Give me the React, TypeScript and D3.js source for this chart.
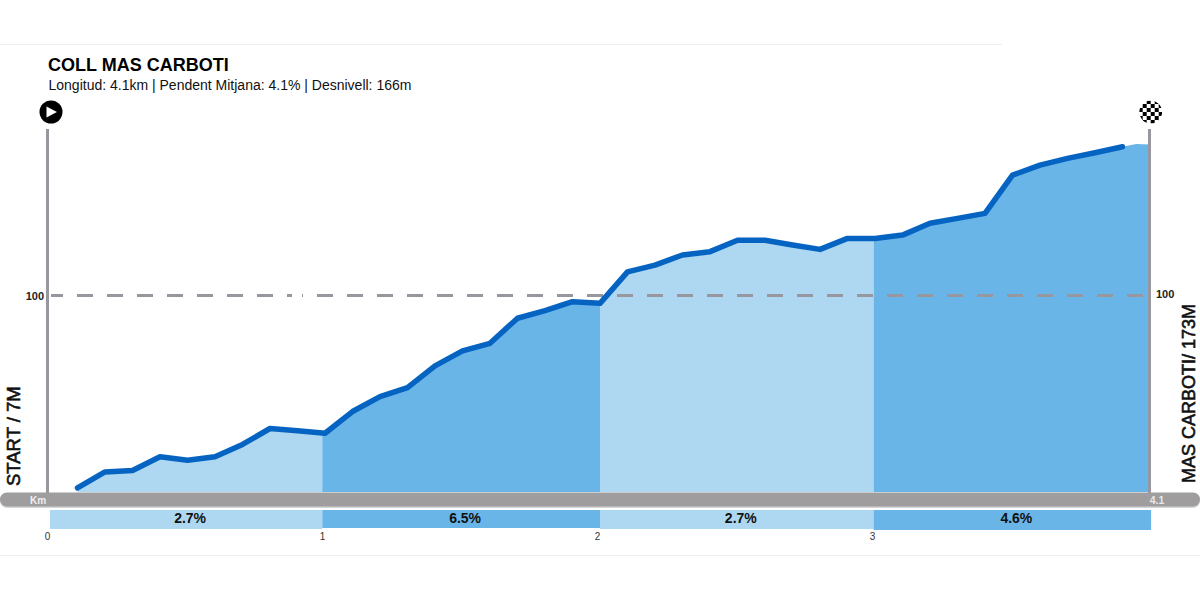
import * as d3 from 'd3';

const titleText = 'COLL MAS CARBOTI';
const subtitleText = 'Longitud: 4.1km | Pendent Mitjana: 4.1% | Desnivell: 166m';
const startLabel = 'START / 7M';
const endLabel = 'MAS CARBOTI/ 173M';

// elevation every 100m
const kms = [0.1, 0.2, 0.3, 0.4, 0.5, 0.6, 0.7, 0.8, 0.9, 1, 1.1, 1.2, 1.3, 1.4, 1.5, 1.6, 1.7, 1.8, 1.9, 2, 2.1, 2.2, 2.3, 2.4, 2.5, 2.6, 2.7, 2.8, 2.9, 3, 3.1, 3.2, 3.3, 3.4, 3.5, 3.6, 3.7, 3.8, 3.9];
const elevations = [7, 14.7, 15.4, 22, 20.4, 22, 28, 35.7, 34.6, 33.4, 43.9, 51.1, 55.5, 66, 73.2, 76.9, 89, 92.7, 97, 96.2, 111.4, 114.7, 119.6, 121.2, 126.7, 126.7, 124.4, 122.3, 127.6, 127.6, 129.2, 134.9, 137.3, 139.7, 158.2, 163, 166.3, 169, 171.9];
// the fill runs on past the end of the line
const tailKms = [3.95, 4];
const tailElevations = [173.2, 173];

const segmentStarts = [0, 0.99, 2, 2.995];
const segmentEnds = [0.99, 2, 2.995, 4.004];
const segmentGrades = ['2.7%', '6.5%', '2.7%', '4.6%'];
const kmTicks = [0, 1, 2, 3];

const LIGHT = '#aed7f1';
const DARK = '#6ab5e8';
const LINE = '#0564c2';
const AXIS = '#98979f';
const FONT = '"Liberation Sans", Arial, sans-serif';

const x = d3.scaleLinear().domain([0, 4]).range([50, 1150]);
const y = d3.scaleLinear().domain([5, 100]).range([492, 295.5]);

type Pt = [number, number];
const linePts: Pt[] = kms.map((k, i) => [k, elevations[i]]);
const areaPts: Pt[] = [...linePts, ...tailKms.map((k, i): Pt => [k, tailElevations[i]])];

const lineGen = d3.line<Pt>().x(d => x(d[0])).y(d => y(d[1]));
const areaGen = d3.area<Pt>().x(d => x(d[0])).y0(y(5)).y1(d => y(d[1]));

const App = () => {
    return (
        <svg width="1200" height="600" style={{ position: 'absolute', left: 0, top: 0, background: '#fff' }} fontFamily={FONT}>
            <defs>
                {segmentStarts.map((s, i) => (
                    <clipPath key={i} id={`seg${i}`}>
                        <rect x={x(s)} y={100} width={x(segmentEnds[i]) - x(s)} height={400} />
                    </clipPath>
                ))}
                <clipPath id="flagClip"><circle cx="1150.7" cy="112" r="11.5" /></clipPath>
                <pattern id="checker" width="8" height="8" patternUnits="userSpaceOnUse" patternTransform="translate(1150.7 112)">
                    <rect width="8" height="8" fill="#fff" />
                    <rect width="4" height="4" fill="#000" />
                    <rect x="4" y="4" width="4" height="4" fill="#000" />
                </pattern>
            </defs>

            <line x1="0" x2="1002" y1="44.5" y2="44.5" stroke="#eeeeee" />
            <line x1="0" x2="1200" y1="555.5" y2="555.5" stroke="#eeeeee" />

            <text x="48" y="71" fontSize="18" fontWeight="bold" fill="#000">{titleText}</text>
            <text x="48.5" y="90" fontSize="14" fill="#111">{subtitleText}</text>

            {segmentStarts.map((_, i) => (
                <path key={i} d={areaGen(areaPts) ?? ''} fill={i % 2 ? DARK : LIGHT} clipPath={`url(#seg${i})`} />
            ))}

            <line x1="47.5" x2="47.5" y1="129" y2="493" stroke={AXIS} strokeWidth="3" />
            <line x1="1149.5" x2="1149.5" y1="129" y2="493" stroke={AXIS} strokeWidth="3" />

            <line x1="47" x2="1145" y1={y(100)} y2={y(100)} stroke={AXIS} strokeWidth="3" strokeDasharray="16 14" />
            <rect x="292" y={y(100) - 2} width="10" height="4" fill="#fff" />
            <rect x="49" y={y(100) - 2} width="2" height="4" fill="#fff" />

            <path d={lineGen(linePts) ?? ''} fill="none" stroke={LINE} strokeWidth="5.5" strokeLinecap="round" strokeLinejoin="round" />

            <text x="44" y="299.5" fontSize="11" fontWeight="bold" textAnchor="end" fill="#222">100</text>
            <text x="1156" y="297.5" fontSize="11" fontWeight="bold" fill="#222">100</text>

            <text transform="translate(19.5,486) rotate(-90)" fontSize="18.5" stroke="#111" strokeWidth="0.6" fill="#111">{startLabel}</text>
            <text transform="translate(1195,483) rotate(-90)" fontSize="18" stroke="#111" strokeWidth="0.6" fill="#111">{endLabel}</text>

            <rect x="0" y="493" width="1200" height="15" rx="7" fill="#d5d5d5" />
            <rect x="0" y="492.5" width="1200" height="14" rx="7" fill="#9f9d9d" />
            <text x="38" y="503.5" fontSize="10" fontWeight="bold" textAnchor="middle" fill="#f0f0f0">Km</text>
            <text x="1157" y="504" fontSize="10.5" fontWeight="bold" textAnchor="middle" fill="#e8e8e8">4.1</text>

            {segmentStarts.map((s, i) => (
                <g key={i}>
                    <rect x={x(s)} y="510" width={x(segmentEnds[i]) - x(s)} height={[19, 18, 19, 20][i]} fill={i % 2 ? DARK : LIGHT} />
                    <text x={(x(s) + x(segmentEnds[i])) / 2 + 4} y="523" fontSize="14" fontWeight="bold" textAnchor="middle" fill="#111">{segmentGrades[i]}</text>
                </g>
            ))}
            {kmTicks.map(t => (
                <text key={t} x={x(t) - 2.5} y="540" fontSize="10" textAnchor="middle" fill="#333">{t}</text>
            ))}

            <circle cx="51" cy="112" r="11.5" fill="#000" />
            <path d="M46.5 106.5 L57 112 L46.5 117.5 Z" fill="#fff" />

            <g clipPath="url(#flagClip)">
                <circle cx="1150.7" cy="112" r="11.5" fill="url(#checker)" />
            </g>
        </svg>
    );
};

export default App;
